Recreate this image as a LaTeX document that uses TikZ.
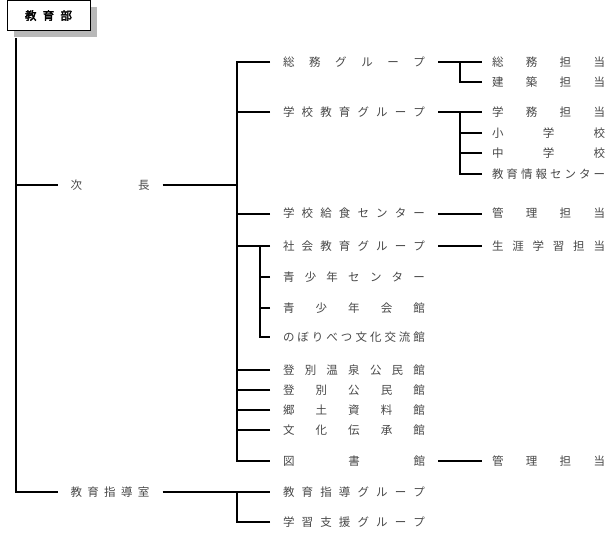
\documentclass[tikz,border=0pt]{standalone}
\usepackage{fontspec}
\usetikzlibrary{shadows}
\newfontfamily\cjk[AutoFakeBold=3]{Noto Sans CJK JP}
\makeatletter
\def\spr#1{\spr@a#1\relax}
\def\spr@a#1#2{#1\ifx#2\relax\else\hfill\expandafter\spr@a\expandafter#2\fi}
\makeatother
\newcommand\sprbox[2]{\makebox[#1][s]{\spr{#2}}}
\tikzset{
  lbl/.style={inner sep=0pt, font=\cjk\fontsize{11.5}{13}\selectfont, text=black!72},
  colA/.style={lbl, outer xsep=13pt},
  colB/.style={lbl, outer xsep=13pt},
  colC/.style={lbl, outer xsep=10pt},
  conn/.style={line width=2pt, black},
  rootbox/.style={draw=black, line width=0.9pt, fill=white, inner sep=0pt,
    minimum width=83pt, minimum height=30.5pt,
    font=\cjk\bfseries\fontsize{11.5}{13}\selectfont,
    general shadow={fill=black!28, shadow xshift=6.5pt, shadow yshift=-6.5pt}},
}
\begin{document}
\begin{tikzpicture}[x=1pt,y=-1pt]
\useasboundingbox (0,0) rectangle (612,542);
% root
\node[rootbox] (root) at (48.5,15.5) {\sprbox{47pt}{教育部}};
\coordinate (stem) at (16,38);
% column 1
\node[colA] (jicho) at (110,185) {\sprbox{79pt}{次長}};
\node[colA] (shidou) at (110,492) {\sprbox{79pt}{教育指導室}};
% column 2
\node[colB] (c2a) at (354,62)  {\sprbox{142pt}{総務グループ}};
\node[colB] (c2b) at (354,112) {\sprbox{142pt}{学校教育グループ}};
\node[colB] (c2c) at (354,213.5) {\sprbox{142pt}{学校給食センター}};
\node[colB] (c2d) at (354,246) {\sprbox{142pt}{社会教育グループ}};
\node[colB] (c2e) at (354,277) {\sprbox{142pt}{青少年センター}};
\node[colB] (c2f) at (354,308) {\sprbox{142pt}{青少年会館}};
\node[colB] (c2g) at (354,337) {\sprbox{142pt}{のぼりべつ文化交流館}};
\node[colB] (c2h) at (354,370) {\sprbox{142pt}{登別温泉公民館}};
\node[colB] (c2i) at (354,390) {\sprbox{142pt}{登別公民館}};
\node[colB] (c2j) at (354,410) {\sprbox{142pt}{郷土資料館}};
\node[colB] (c2k) at (354,430) {\sprbox{142pt}{文化伝承館}};
\node[colB] (c2l) at (354,461) {\sprbox{142pt}{図書館}};
\node[colB] (c2m) at (354,492) {\sprbox{142pt}{教育指導グループ}};
\node[colB] (c2n) at (354,522) {\sprbox{142pt}{学習支援グループ}};
% column 3
\node[colC] (c3a) at (548.5,62)  {\sprbox{113pt}{総務担当}};
\node[colC] (c3b) at (548.5,82)  {\sprbox{113pt}{建築担当}};
\node[colC] (c3c) at (548.5,112) {\sprbox{113pt}{学務担当}};
\node[colC] (c3d) at (548.5,133) {\sprbox{113pt}{小学校}};
\node[colC] (c3e) at (548.5,153) {\sprbox{113pt}{中学校}};
\node[colC] (c3f) at (548.5,174) {\sprbox{113pt}{教育情報センター}};
\node[colC] (c3g) at (548.5,213.5) {\sprbox{113pt}{管理担当}};
\node[colC] (c3h) at (548.5,246) {\sprbox{113pt}{生涯学習担当}};
\node[colC] (c3i) at (548.5,461) {\sprbox{113pt}{管理担当}};
% bus coordinates
\coordinate (v2) at (237,0);
\coordinate (v2s) at (260,0);
\coordinate (v3) at (460,0);
% main stem
\draw[conn] (stem) |- (shidou.west);
\draw[conn] (jicho.west) -- (stem |- jicho.west);
% jicho bus
\draw[conn] (jicho.east) -- (v2 |- jicho.east);
\draw[conn] (c2a.west) -| (v2 |- c2l.west) -- (c2l.west);
\foreach \n in {c2b,c2c,c2d,c2h,c2i,c2j,c2k}
  \draw[conn] (\n.west) -- (v2 |- \n.west);
% shakai kyoiku sub-bus
\draw[conn] (v2s |- c2d.west) |- (c2g.west);
\foreach \n in {c2e,c2f}
  \draw[conn] (\n.west) -- (v2s |- \n.west);
% shidou
\draw[conn] (shidou.east) -- (c2m.west);
\draw[conn] (c2n.west) -| (v2 |- c2m.west);
% column 3 connectors
\draw[conn] (c2a.east) -- (c3a.west);
\draw[conn] (c3b.west) -| (v3 |- c3a.west);
\draw[conn] (c2b.east) -- (c3c.west);
\draw[conn] (c3f.west) -| (v3 |- c3c.west);
\foreach \n in {c3d,c3e}
  \draw[conn] (\n.west) -- (v3 |- \n.west);
\draw[conn] (c2c.east) -- (c3g.west);
\draw[conn] (c2d.east) -- (c3h.west);
\draw[conn] (c2l.east) -- (c3i.west);
\end{tikzpicture}
\end{document}
